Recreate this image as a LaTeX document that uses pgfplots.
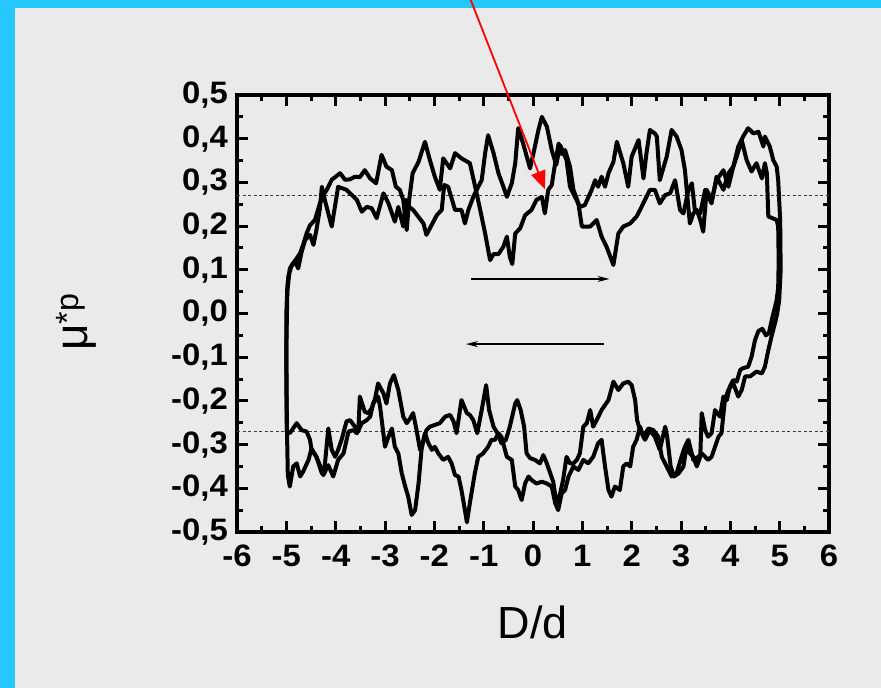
\documentclass[border=0pt]{standalone}
\usepackage{pgfplots}
\pgfplotsset{compat=1.18}
\usepackage{fontspec}
\setmainfont{Liberation Sans}
\newfontfamily\tickfont[FakeStretch=1.06]{Liberation Sans Bold}
\usetikzlibrary{arrows.meta}
\definecolor{frame}{RGB}{38,198,255}
\definecolor{panel}{RGB}{234,234,234}
\definecolor{pointer}{RGB}{255,0,0}
\definecolor{refline}{RGB}{60,60,60}
\pgfplotsset{loop/.style={black, mark=none, line width=4pt, line join=round, line cap=round}}

\begin{document}
\begin{tikzpicture}
\useasboundingbox (0pt,0pt) rectangle (881pt,688pt);
\fill[frame] (0pt,0pt) rectangle (881pt,688pt);
\fill[panel] (15pt,0pt) rectangle (881pt,680pt);
\begin{axis}[
  at={(237pt,156pt)}, anchor=south west,
  scale only axis, width=592pt, height=437pt,
  xmin=-6, xmax=6, ymin=-0.5, ymax=0.5,
  xtick={-6,-5,-4,-3,-2,-1,0,1,2,3,4,5,6},
  ytick={-0.5,-0.4,-0.3,-0.2,-0.1,0,0.1,0.2,0.3,0.4,0.5},
  minor x tick num=1, minor y tick num=1,
  tick align=inside,
  major tick length=11pt, minor tick length=6pt,
  every tick/.append style={line width=3pt, black},
  axis line style={line width=4pt},
  ticklabel style={font=\tickfont\fontsize{31}{31}\selectfont, inner sep=0pt},
  yticklabel style={xshift=-9pt,
    /pgf/number format/fixed, /pgf/number format/fixed zerofill,
    /pgf/number format/precision=1, /pgf/number format/use comma,
    /pgf/number format/assume math mode=true},
  xticklabel style={yshift=-13pt, /pgf/number format/assume math mode=true},
  xlabel={D/d}, ylabel={μ\textsuperscript{*p}},
  xlabel style={font=\fontsize{45}{45}\selectfont, at={(axis description cs:0.5,-0.2426)}, anchor=base},
  ylabel style={font=\fontsize{46}{46}\selectfont, at={(axis description cs:-0.2517,0.48)}, anchor=base},
  clip=false,
]
% reference levels
\draw[line width=1.2pt, refline, dash pattern=on 3pt off 2.5pt] (axis cs:-6,0.27) -- (axis cs:6,0.27);
\draw[line width=1.2pt, refline, dash pattern=on 3pt off 2.5pt] (axis cs:-6,-0.27) -- (axis cs:6,-0.27);

% first cycle, forward stroke
\addplot[loop] coordinates {
(-4.99,-0.27) (-5.00,-0.15) (-5.00,0.00) (-4.98,0.06) (-4.96,0.085) (-4.89,0.111) (-4.79,0.126)
(-4.72,0.138) (-4.66,0.157) (-4.59,0.183) (-4.52,0.202) (-4.42,0.214) (-4.32,0.252) (-4.25,0.271)
(-4.18,0.283) (-4.08,0.306) (-3.91,0.321) (-3.81,0.306) (-3.71,0.307) (-3.61,0.313) (-3.51,0.312)
(-3.41,0.328) (-3.30,0.309) (-3.18,0.298) (-3.07,0.363) (-2.97,0.336) (-2.86,0.328) (-2.78,0.290)
(-2.70,0.283) (-2.63,0.260) (-2.56,0.191) (-2.51,0.260) (-2.44,0.321) (-2.32,0.347) (-2.19,0.393)
(-2.09,0.351) (-1.99,0.313) (-1.89,0.283) (-1.82,0.355) (-1.68,0.332) (-1.58,0.367) (-1.45,0.355)
(-1.28,0.344) (-1.18,0.294) (-1.07,0.237) (-0.97,0.183) (-0.87,0.122) (-0.80,0.136) (-0.70,0.136)
(-0.60,0.153) (-0.53,0.176) (-0.47,0.130) (-0.42,0.113) (-0.36,0.183) (-0.26,0.195) (-0.16,0.225)
(-0.03,0.237) (0.07,0.260) (0.18,0.267) (0.24,0.229) (0.31,0.283) (0.38,0.294) (0.45,0.345)
(0.52,0.389) (0.58,0.365) (0.65,0.374) (0.75,0.336) (0.82,0.283) (0.92,0.252) (0.99,0.199)
(1.16,0.199) (1.29,0.214) (1.39,0.176) (1.49,0.153) (1.63,0.111) (1.73,0.183) (1.83,0.199)
(1.97,0.206) (2.10,0.222) (2.17,0.237) (2.27,0.260) (2.37,0.283) (2.47,0.283) (2.57,0.252)
(2.68,0.271) (2.78,0.275) (2.88,0.305) (2.98,0.237) (3.05,0.229) (3.15,0.283) (3.22,0.298)
(3.28,0.237) (3.39,0.229) (3.49,0.283) (3.62,0.252) (3.72,0.313) (3.86,0.283) (3.96,0.321)
(4.06,0.336) (4.13,0.359) (4.23,0.397) (4.33,0.351) (4.43,0.325) (4.53,0.344) (4.64,0.309)
(4.70,0.344) (4.74,0.321) (4.77,0.222) (4.94,0.214) (4.97,0.199) (4.98,0.12) (4.97,0.06) (4.94,0.031)
};
% first cycle, return stroke
\addplot[loop] coordinates {
(-4.99,-0.27) (-4.93,-0.274) (-4.79,-0.251) (-4.69,-0.267) (-4.59,-0.270) (-4.52,-0.289)
(-4.49,-0.312) (-4.39,-0.328) (-4.28,-0.366) (-4.22,-0.347) (-4.15,-0.263) (-4.08,-0.312)
(-4.01,-0.328) (-3.95,-0.312) (-3.88,-0.289) (-3.78,-0.247) (-3.71,-0.244) (-3.61,-0.259)
(-3.54,-0.270) (-3.51,-0.190) (-3.41,-0.225) (-3.34,-0.228) (-3.27,-0.217) (-3.20,-0.194)
(-3.14,-0.160) (-3.03,-0.183) (-2.97,-0.206) (-2.90,-0.160) (-2.82,-0.141) (-2.73,-0.175)
(-2.63,-0.236) (-2.56,-0.251) (-2.49,-0.240) (-2.43,-0.228) (-2.36,-0.267) (-2.29,-0.312)
(-2.22,-0.289) (-2.16,-0.267) (-2.09,-0.259) (-1.99,-0.255) (-1.89,-0.251) (-1.78,-0.236)
(-1.68,-0.232) (-1.61,-0.247) (-1.55,-0.274) (-1.45,-0.198) (-1.34,-0.228) (-1.28,-0.232)
(-1.21,-0.244) (-1.13,-0.274) (-1.04,-0.221) (-0.95,-0.164) (-0.89,-0.221) (-0.80,-0.259)
(-0.72,-0.274) (-0.64,-0.297) (-0.55,-0.289) (-0.47,-0.259) (-0.36,-0.206) (-0.32,-0.198)
(-0.25,-0.221) (-0.18,-0.259) (-0.13,-0.320) (-0.06,-0.331) (0.04,-0.335) (0.14,-0.343)
(0.21,-0.324) (0.28,-0.343) (0.41,-0.385) (0.48,-0.438) (0.55,-0.412) (0.61,-0.381)
(0.68,-0.328) (0.75,-0.343) (0.82,-0.343) (0.89,-0.335) (0.95,-0.320) (1.02,-0.259)
(1.09,-0.251) (1.16,-0.221) (1.22,-0.259) (1.29,-0.244) (1.39,-0.221) (1.53,-0.198)
(1.63,-0.156) (1.73,-0.175) (1.83,-0.160) (1.93,-0.156) (2.00,-0.164) (2.07,-0.198)
(2.11,-0.244) (2.17,-0.267) (2.27,-0.289) (2.37,-0.267) (2.47,-0.282) (2.57,-0.312)
(2.68,-0.259) (2.72,-0.282) (2.79,-0.350) (2.86,-0.373) (2.95,-0.366) (3.05,-0.350)
(3.11,-0.305) (3.18,-0.320) (3.25,-0.328) (3.32,-0.350) (3.39,-0.328) (3.42,-0.228)
(3.49,-0.267) (3.55,-0.282) (3.62,-0.274) (3.69,-0.221) (3.79,-0.236) (3.86,-0.190)
(3.93,-0.198) (3.99,-0.167) (4.06,-0.152) (4.13,-0.156) (4.20,-0.129) (4.26,-0.125)
(4.36,-0.122) (4.43,-0.099) (4.50,-0.061) (4.57,-0.040) (4.65,-0.035) (4.72,-0.050)
(4.78,-0.045) (4.86,-0.005) (4.94,0.031)
};
% second cycle, forward stroke
\addplot[loop] coordinates {
(-4.97,-0.37) (-4.99,-0.25) (-5.00,-0.08) (-4.98,0.05) (-4.93,0.103) (-4.82,0.119) (-4.76,0.103)
(-4.69,0.141) (-4.62,0.168) (-4.52,0.180) (-4.45,0.157) (-4.39,0.191) (-4.32,0.240) (-4.28,0.290)
(-4.22,0.260) (-4.08,0.199) (-3.95,0.290) (-3.78,0.283) (-3.57,0.260) (-3.47,0.233) (-3.37,0.244)
(-3.27,0.241) (-3.17,0.218) (-3.03,0.275) (-2.93,0.252) (-2.80,0.210) (-2.73,0.244) (-2.63,0.199)
(-2.57,0.260) (-2.51,0.244) (-2.43,0.237) (-2.22,0.206) (-2.16,0.180) (-1.95,0.225) (-1.85,0.237)
(-1.80,0.294) (-1.72,0.290) (-1.58,0.237) (-1.45,0.237) (-1.38,0.206) (-1.31,0.237) (-1.21,0.267)
(-1.11,0.290) (-1.04,0.305) (-0.97,0.367) (-0.91,0.408) (-0.80,0.367) (-0.70,0.321) (-0.60,0.290)
(-0.53,0.267) (-0.43,0.298) (-0.36,0.344) (-0.30,0.424) (-0.20,0.389) (-0.06,0.332) (0.01,0.367)
(0.11,0.420) (0.18,0.450) (0.28,0.428) (0.38,0.374) (0.47,0.340) (0.55,0.385) (0.61,0.370)
(0.68,0.351) (0.75,0.290) (0.85,0.267) (0.95,0.244) (1.05,0.248) (1.19,0.283) (1.26,0.305)
(1.32,0.290) (1.39,0.313) (1.46,0.290) (1.53,0.321) (1.63,0.347) (1.70,0.393) (1.76,0.370)
(1.83,0.344) (1.93,0.290) (2.00,0.359) (2.14,0.397) (2.24,0.309) (2.30,0.367) (2.37,0.420)
(2.47,0.412) (2.51,0.405) (2.57,0.305) (2.71,0.359) (2.81,0.420) (2.91,0.405) (3.01,0.374)
(3.08,0.328) (3.11,0.290) (3.18,0.206) (3.25,0.229) (3.32,0.237) (3.39,0.214) (3.45,0.187)
(3.52,0.283) (3.62,0.260) (3.72,0.305) (3.86,0.328) (3.96,0.290) (4.06,0.336) (4.16,0.382)
(4.26,0.405) (4.36,0.424) (4.47,0.412) (4.57,0.416) (4.67,0.382) (4.70,0.405) (4.80,0.382)
(4.87,0.351) (4.94,0.336) (4.97,0.305) (5.01,0.214) (5.02,0.10) (4.99,0.03) (4.95,0.00) (4.91,-0.02)
};
% second cycle, return stroke
\addplot[loop] coordinates {
(-4.97,-0.37) (-4.93,-0.396) (-4.86,-0.350) (-4.79,-0.343) (-4.72,-0.373) (-4.66,-0.362)
(-4.55,-0.335) (-4.49,-0.309) (-4.39,-0.328) (-4.32,-0.347) (-4.25,-0.370) (-4.15,-0.347)
(-4.05,-0.373) (-3.95,-0.335) (-3.84,-0.320) (-3.74,-0.270) (-3.64,-0.267) (-3.57,-0.274)
(-3.47,-0.251) (-3.37,-0.244) (-3.30,-0.236) (-3.24,-0.206) (-3.14,-0.190) (-3.10,-0.213)
(-3.00,-0.305) (-2.93,-0.282) (-2.86,-0.263) (-2.80,-0.305) (-2.73,-0.320) (-2.66,-0.366)
(-2.59,-0.396) (-2.53,-0.419) (-2.46,-0.461) (-2.39,-0.450) (-2.32,-0.389) (-2.26,-0.312)
(-2.19,-0.274) (-2.12,-0.297) (-2.05,-0.312) (-1.99,-0.305) (-1.92,-0.320) (-1.82,-0.335)
(-1.72,-0.328) (-1.65,-0.343) (-1.58,-0.370) (-1.51,-0.373) (-1.45,-0.404) (-1.38,-0.450)
(-1.34,-0.478) (-1.28,-0.434) (-1.18,-0.366) (-1.11,-0.328) (-1.01,-0.320) (-0.91,-0.305)
(-0.84,-0.289) (-0.77,-0.289) (-0.70,-0.274) (-0.64,-0.282) (-0.53,-0.328) (-0.43,-0.335)
(-0.36,-0.396) (-0.30,-0.404) (-0.23,-0.427) (-0.16,-0.389) (-0.09,-0.373) (-0.03,-0.381)
(0.07,-0.389) (0.18,-0.385) (0.28,-0.389) (0.38,-0.396) (0.45,-0.434) (0.51,-0.450)
(0.58,-0.412) (0.65,-0.404) (0.72,-0.373) (0.82,-0.350) (0.92,-0.358) (1.02,-0.335)
(1.12,-0.343) (1.22,-0.328) (1.32,-0.297) (1.39,-0.289) (1.46,-0.350) (1.53,-0.404)
(1.59,-0.419) (1.66,-0.396) (1.76,-0.404) (1.83,-0.350) (1.90,-0.343) (1.97,-0.350)
(2.03,-0.305) (2.10,-0.289) (2.17,-0.259) (2.24,-0.282) (2.34,-0.263) (2.44,-0.267)
(2.54,-0.282) (2.61,-0.328) (2.71,-0.350) (2.81,-0.373) (2.91,-0.366) (3.01,-0.328)
(3.08,-0.305) (3.15,-0.289) (3.25,-0.335) (3.35,-0.328) (3.42,-0.320) (3.49,-0.328)
(3.55,-0.335) (3.62,-0.328) (3.69,-0.305) (3.76,-0.282) (3.82,-0.274) (3.89,-0.198)
(3.96,-0.175) (4.06,-0.160) (4.16,-0.190) (4.23,-0.175) (4.30,-0.144) (4.40,-0.144)
(4.53,-0.133) (4.64,-0.137) (4.70,-0.122) (4.77,-0.084) (4.84,-0.050) (4.91,-0.020)
};

% direction of travel
\draw[line width=1.3pt, -{Stealth[length=12pt,width=6pt]}] (axis cs:-1.26,0.079) -- (axis cs:1.55,0.079);
\draw[line width=1.3pt, -{Stealth[length=12pt,width=6pt]}] (axis cs:1.44,-0.07) -- (axis cs:-1.36,-0.07);
% pointer to the reference level
\draw[pointer, line width=1.8pt, -{Triangle[length=18pt,width=15pt]}] (axis cs:-1.41,0.760) -- (axis cs:0.24,0.285);
\end{axis}
\end{tikzpicture}
\end{document}
